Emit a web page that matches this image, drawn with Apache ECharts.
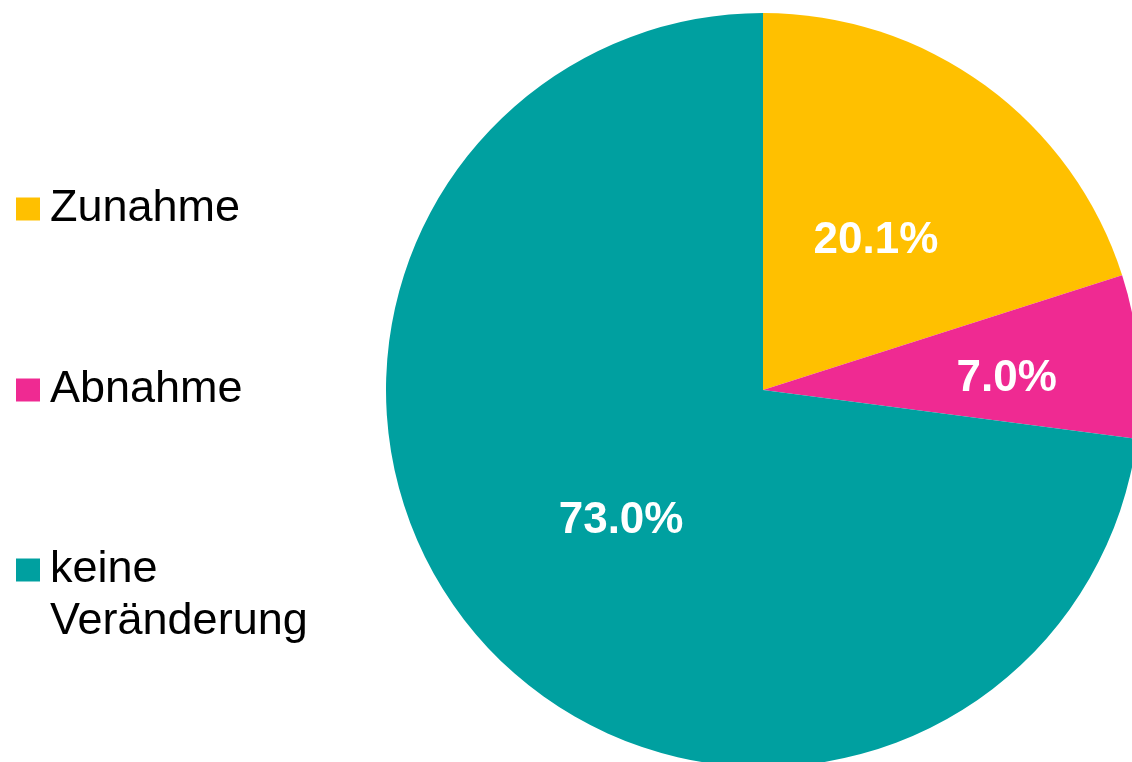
<!DOCTYPE html>
<html>
<head>
<meta charset="utf-8">
<script src="https://cdn.jsdelivr.net/npm/echarts@6/dist/echarts.min.js"></script>
<style>
	html, body { margin: 0; padding: 0; background: #fff; }
	#chart { width: 1132px; height: 762px; }
</style>
</head>
<body>
<div id="chart"></div>
<script>
// Daten
let categories = ['Zunahme', 'Abnahme', 'keine\nVeränderung'];
let values = [20.1, 7.0, 73.0];
let colors = ['#FFC000', '#EF2A92', '#00A0A0'];

let temp = [];
for (let i = 0; i < categories.length; i++) {
	temp.push({ name: categories[i], value: values[i], itemStyle: { color: colors[i] } });
}

let fontFamily = "'Liberation Sans', Arial, sans-serif";

// Verschiebung der Beschriftungen in den Segmenten
let labelShift = [[0, 6], [53, 6], [2, 5]];

function makeLegend(name, top, blankLine) {
	return {
		orient: 'vertical',
		left: 16,
		top: top,
		padding: 0,
		icon: 'rect',
		itemWidth: 24,
		itemHeight: 23,
		selectedMode: false,
		data: [name],
		// leere Zeile oben, damit das Symbol auf der ersten Zeile sitzt
		formatter: function(n) {
			return blankLine ? ' \n' + n : n;
		},
		textStyle: {
			fontFamily: fontFamily,
			fontSize: 45,
			lineHeight: 52,
			color: '#000',
			padding: [0, 0, 0, 5]
		}
	};
}

let option = {
	animation: false,
	legend: [
		makeLegend(categories[0], 183, false),
		makeLegend(categories[1], 364, false),
		makeLegend(categories[2], 492, true)
	],
	series: [
		{
			name: 'Veränderung',
			type: 'pie',
			center: [763, 390],
			radius: 377,
			startAngle: 90,
			clockwise: true,
			avoidLabelOverlap: false,
			label: {
				show: true,
				position: 'inside',
				formatter: function(p) {
					return p.value.toFixed(1) + '%';
				},
				color: '#fff',
				fontFamily: fontFamily,
				fontWeight: 'bold',
				fontSize: 44
			},
			labelLine: { show: false },
			emphasis: { disabled: true },
			data: temp
		}
	]
};

let myChart = echarts.init(document.getElementById('chart'));
myChart.setOption(option);
myChart.setOption({
	series: [{
		labelLayout: function(params) {
			let s = labelShift[params.dataIndex];
			return { dx: s[0], dy: s[1] };
		}
	}]
});
</script>
</body>
</html>
